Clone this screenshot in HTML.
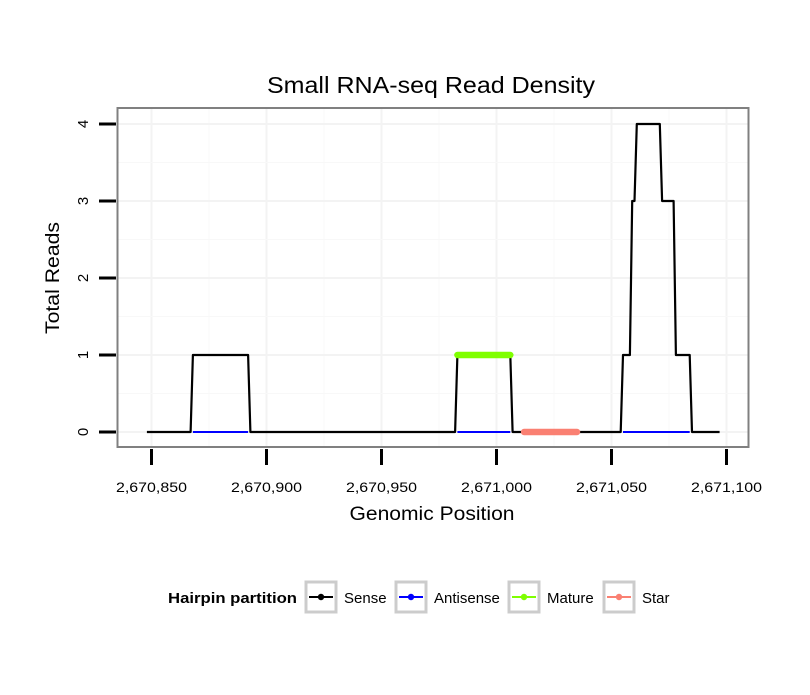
<!DOCTYPE html>
<html><head><meta charset="utf-8"><style>
body{margin:0;background:#fff;}
svg text{font-family:"Liberation Sans",sans-serif;}
</style></head><body>
<svg id="chart" width="810" height="690" xmlns="http://www.w3.org/2000/svg">
<rect width="810" height="690" fill="#fff"/>
<text x="431" y="93" font-size="23" text-anchor="middle" textLength="328" lengthAdjust="spacingAndGlyphs">Small RNA-seq Read Density</text>
<g id="grid"></g>
<g id="series"></g>
<rect x="117.5" y="108" width="631" height="339" fill="none" stroke="#808080" stroke-width="2"/>
<g id="axes"></g>
<text x="432" y="520" font-size="19" text-anchor="middle" textLength="165" lengthAdjust="spacingAndGlyphs">Genomic Position</text>
<text transform="translate(59,278) rotate(-90)" font-size="19" text-anchor="middle" textLength="112" lengthAdjust="spacingAndGlyphs">Total Reads</text>
<g id="legend">
<text x="168" y="603" font-size="15" font-weight="bold" textLength="129" lengthAdjust="spacingAndGlyphs">Hairpin partition</text>
</g>
</svg>
<script>
const xTicks = [2670850, 2670900, 2670950, 2671000, 2671050, 2671100];
const xTickLabels = ["2,670,850", "2,670,900", "2,670,950", "2,671,000", "2,671,050", "2,671,100"];
const yTicks = [0, 1, 2, 3, 4];
// sense runs: start, end, value (per-position read counts)
const senseRunStart = [2670848, 2670868, 2670893, 2670983, 2671007, 2671055, 2671059, 2671061, 2671072, 2671078, 2671085];
const senseRunEnd   = [2670867, 2670892, 2670982, 2671006, 2671054, 2671058, 2671060, 2671071, 2671077, 2671084, 2671097];
const senseRunValue = [0, 1, 0, 1, 0, 1, 3, 4, 3, 1, 0];
const antisenseRunStart = [2670868, 2670983, 2671055];
const antisenseRunEnd = [2670892, 2671006, 2671084];
const antisenseValue = [0, 0, 0];
const matureStart = [2670983];
const matureEnd = [2671006];
const matureValue = [1];
const starStart = [2671012];
const starEnd = [2671035];
const starValue = [0];
const legendLabels = ["Sense", "Antisense", "Mature", "Star"];
const legendColors = ["#000000", "#0000ff", "#7fff00", "#fa8072"];

const NS = "http://www.w3.org/2000/svg";
function xs(v){ return 151.5 + (v - 2670850) * 2.3; }
function ys(v){ return 432 - v * 77; }
function mk(tag, attrs, parent){
  const e = document.createElementNS(NS, tag);
  for (const k in attrs) e.setAttribute(k, attrs[k]);
  parent.appendChild(e); return e;
}
const grid = document.getElementById('grid');
const axes = document.getElementById('axes');
const series = document.getElementById('series');
for (let i = 0; i < xTicks.length; i++) {
  const g = mk('line', {x1: xs(xTicks[i]), x2: xs(xTicks[i]), y1: 109, y2: 446, stroke: '#f3f3f3', 'stroke-width': 2}, grid);
  
  
  if (i < xTicks.length - 1) {
    const m = mk('line', {x1: xs(xTicks[i] + 25), x2: xs(xTicks[i] + 25), y1: 109, y2: 446, stroke: '#f8f8f8', 'stroke-width': 1}, grid);
    
    
  }
  const t = mk('line', {x1: xs(xTicks[i]), x2: xs(xTicks[i]), y1: 449, y2: 465, stroke: '#000', 'stroke-width': 3}, axes);
  
  
  const l = mk('text', {x: xs(xTicks[i]), y: 492, 'font-size': 14, 'text-anchor': 'middle', textLength: 71, lengthAdjust: 'spacingAndGlyphs'}, axes);
  
  
  l.textContent = xTickLabels[i];
}
for (let i = 0; i < yTicks.length; i++) {
  const g = mk('line', {x1: 118, x2: 748, y1: ys(yTicks[i]), y2: ys(yTicks[i]), stroke: '#f3f3f3', 'stroke-width': 2}, grid);
  
  
  if (i < yTicks.length - 1) {
    const m = mk('line', {x1: 118, x2: 748, y1: ys(yTicks[i] + 0.5), y2: ys(yTicks[i] + 0.5), stroke: '#f8f8f8', 'stroke-width': 1}, grid);
    
    
  }
  const t = mk('line', {x1: 99, x2: 116, y1: ys(yTicks[i]), y2: ys(yTicks[i]), stroke: '#000', 'stroke-width': 3}, axes);
  
  
  const l = mk('text', {transform: 'translate(' + 88 + ',' + ys(yTicks[i]) + ') rotate(-90)', 'font-size': 15, 'text-anchor': 'middle'}, axes);
  
  
  l.textContent = yTicks[i];
}
function runPoints(starts, ends, vals){
  const pts = [];
  for (let i = 0; i < starts.length; i++)
    for (let p = starts[i]; p <= ends[i]; p++) pts.push(xs(p) + ',' + ys(vals[i]));
  return pts.join(' ');
}
const sense = mk('polyline', {points: runPoints(senseRunStart, senseRunEnd, senseRunValue), fill: 'none', stroke: '#000', 'stroke-width': 2.2, 'stroke-linejoin': 'round'}, series);


for (let i = 0; i < antisenseRunStart.length; i++) {
  const a = mk('polyline', {points: runPoints([antisenseRunStart[i]], [antisenseRunEnd[i]], [antisenseValue[i]]), fill: 'none', stroke: '#0000ff', 'stroke-width': 2}, series);
  
  
}
for (let i = 0; i < matureStart.length; i++) {
  const m = mk('polyline', {points: runPoints([matureStart[i]], [matureEnd[i]], [matureValue[i]]), fill: 'none', stroke: '#7fff00', 'stroke-width': 6.5, 'stroke-linecap': 'round'}, series);
  
  
}
for (let i = 0; i < starStart.length; i++) {
  const s = mk('polyline', {points: runPoints([starStart[i]], [starEnd[i]], [starValue[i]]), fill: 'none', stroke: '#fa8072', 'stroke-width': 6.5, 'stroke-linecap': 'round'}, series);
  
  
}
const legend = document.getElementById('legend');
const boxX = [306, 396, 509, 604];
for (let i = 0; i < legendLabels.length; i++) {
  const g = mk('g', {}, legend);
  
  
  mk('rect', {x: boxX[i], y: 582, width: 30, height: 30, fill: '#fff', stroke: '#cccccc', 'stroke-width': 3}, g);
  mk('line', {x1: boxX[i] + 3, x2: boxX[i] + 27, y1: 597, y2: 597, stroke: legendColors[i], 'stroke-width': 2}, g);
  mk('circle', {cx: boxX[i] + 15, cy: 597, r: 3.2, fill: legendColors[i]}, g);
  const t = mk('text', {x: boxX[i] + 38, y: 603, 'font-size': 15}, g);
  t.textContent = legendLabels[i];
}
</script>
</body></html>
